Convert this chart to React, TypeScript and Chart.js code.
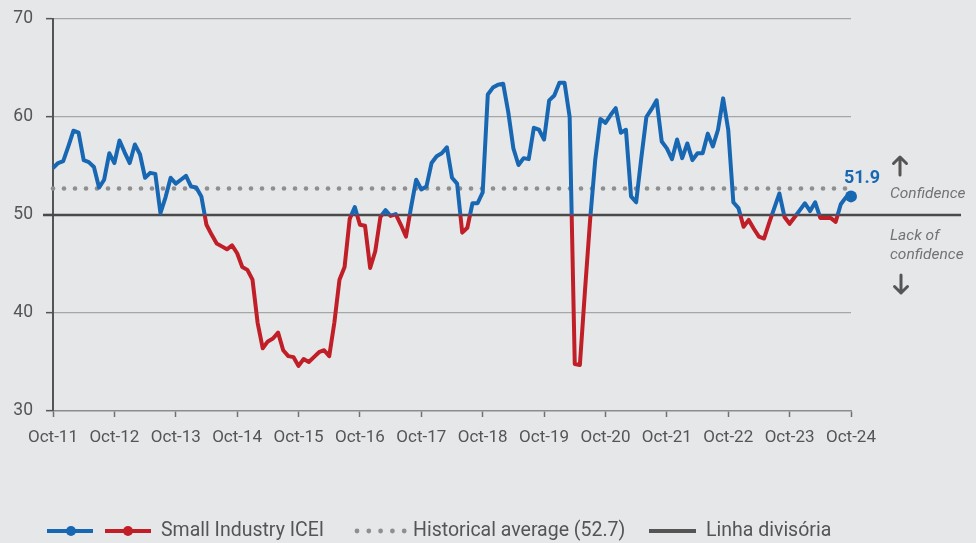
import React, { useEffect, useRef } from 'react';
import { Chart, registerables } from 'chart.js';

Chart.register(...registerables);

// ---- data ----
const MONTHS = ['Oct', 'Nov', 'Dec', 'Jan', 'Feb', 'Mar', 'Apr', 'May', 'Jun', 'Jul', 'Aug', 'Sep'];
const START_YEAR = 11;
const ICEI = [
  54.8, 55.3, 55.5, 57.0, 58.6, 58.4, 55.6, 55.4, 54.9, 52.8, 53.6, 56.3,
  55.3, 57.6, 56.4, 55.3, 57.2, 56.2, 53.8, 54.3, 54.2, 50.2, 51.8, 53.8,
  53.2, 53.6, 54.0, 52.9, 52.8, 51.9, 49.0, 48.0, 47.1, 46.8, 46.5, 46.9,
  46.1, 44.7, 44.4, 43.4, 39.0, 36.4, 37.1, 37.4, 38.0, 36.2, 35.6, 35.5,
  34.6, 35.3, 35.0, 35.5, 36.0, 36.2, 35.6, 39.0, 43.4, 44.7, 49.6, 50.8,
  49.0, 48.9, 44.6, 46.3, 49.8, 50.5, 49.9, 50.1, 49.0, 47.8, 50.8, 53.6,
  52.6, 52.9, 55.3, 56.0, 56.3, 56.9, 53.8, 53.2, 48.2, 48.7, 51.2, 51.2,
  52.3, 62.3, 63.0, 63.3, 63.4, 60.5, 56.8, 55.1, 55.8, 55.7, 58.9, 58.7,
  57.7, 61.7, 62.2, 63.5, 63.5, 60.0, 34.8, 34.7, 42.3, 49.5, 55.6, 59.8,
  59.4, 60.2, 60.9, 58.4, 58.7, 51.9, 51.3, 55.8, 60.0, 60.8, 61.7, 57.5,
  56.8, 55.7, 57.7, 55.8, 57.3, 55.6, 56.3, 56.3, 58.3, 57.0, 58.7, 61.9,
  58.7, 51.3, 50.7, 48.8, 49.5, 48.6, 47.8, 47.6, 49.2, 50.7, 52.2, 49.8,
  49.1, 49.8, 50.5, 51.2, 50.4, 51.3, 49.7, 49.7, 49.7, 49.3, 51.1, 51.8,
  51.9,
];
const HIST_AVG = 52.7;
const DIVIDER = 50;
const Y_MIN = 30;
const Y_MAX = 70;
const Y_STEP = 10;
const LAST_LABEL = '51.9';
const LEGEND_ICEI = 'Small Industry ICEI';
const LEGEND_AVG = 'Historical average (52.7)';
const LEGEND_DIV = 'Linha divisória';
const NOTE_UP = 'Confidence';
const NOTE_DOWN = ['Lack of', 'confidence'];

const LABELS = ICEI.map((_, i) => {
  const yr = START_YEAR + Math.floor((i + 9) / 12);
  return `${MONTHS[i % 12]}-${yr}`;
});

// ---- styles ----
const BLUE = '#1767b3';
const RED = '#c01f28';
const BG = '#e6e7e9';
const TXT = '#555555';
const FONT = 'Roboto, "Noto Sans", sans-serif';

const overlay = {
  id: 'overlay',
  beforeDatasetsDraw(chart: any) {
    const { ctx, chartArea: a, scales } = chart;
    const y = scales.y;
    ctx.save();
    const ya = y.getPixelForValue(HIST_AVG);
    ctx.fillStyle = '#8f8f8f';
    for (let x = a.left; x <= a.right + 0.5; x += 11) {
      ctx.beginPath();
      ctx.arc(x, ya, 2.3, 0, Math.PI * 2);
      ctx.fill();
    }
    const yd = y.getPixelForValue(DIVIDER);
    ctx.strokeStyle = '#4a4a4a';
    ctx.lineWidth = 2.5;
    ctx.beginPath();
    ctx.moveTo(a.left - 10, yd);
    ctx.lineTo(961, yd);
    ctx.stroke();
    ctx.restore();
  },
  afterDraw(chart: any) {
    const { ctx } = chart;
    const meta = chart.getDatasetMeta(0);
    const last = meta.data[meta.data.length - 1];
    ctx.save();
    ctx.fillStyle = BLUE;
    ctx.font = `bold 18px ${FONT}`;
    ctx.textAlign = 'center';
    ctx.textBaseline = 'middle';
    ctx.fillText(LAST_LABEL, last.x + 11, last.y - 18);

    ctx.strokeStyle = '#555';
    ctx.lineWidth = 3;
    ctx.lineCap = 'round';
    ctx.lineJoin = 'round';
    ctx.beginPath();
    ctx.moveTo(900, 175); ctx.lineTo(900, 157);
    ctx.moveTo(893.5, 163.5); ctx.lineTo(900, 157); ctx.lineTo(906.5, 163.5);
    ctx.moveTo(901, 275); ctx.lineTo(901, 293);
    ctx.moveTo(894.5, 286.5); ctx.lineTo(901, 293); ctx.lineTo(907.5, 286.5);
    ctx.stroke();

    ctx.fillStyle = '#737373';
    ctx.font = `italic 15.5px ${FONT}`;
    ctx.textAlign = 'left';
    ctx.fillText(NOTE_UP, 890, 194);
    ctx.fillText(NOTE_DOWN[0], 890, 236);
    ctx.fillText(NOTE_DOWN[1], 890, 255);

    const ly = 531;
    ctx.lineCap = 'butt';
    ctx.lineWidth = 4;
    ctx.strokeStyle = BLUE;
    ctx.beginPath(); ctx.moveTo(47, ly); ctx.lineTo(93, ly); ctx.stroke();
    ctx.fillStyle = BLUE;
    ctx.beginPath(); ctx.arc(71, ly, 5, 0, Math.PI * 2); ctx.fill();
    ctx.strokeStyle = RED;
    ctx.beginPath(); ctx.moveTo(105, ly); ctx.lineTo(151, ly); ctx.stroke();
    ctx.fillStyle = RED;
    ctx.beginPath(); ctx.arc(128, ly, 5, 0, Math.PI * 2); ctx.fill();

    ctx.fillStyle = '#8f8f8f';
    for (let i = 0; i < 5; i++) {
      ctx.beginPath(); ctx.arc(357 + i * 11.8, ly, 2.4, 0, Math.PI * 2); ctx.fill();
    }
    ctx.strokeStyle = '#555';
    ctx.lineWidth = 4;
    ctx.beginPath(); ctx.moveTo(649, ly); ctx.lineTo(696, ly); ctx.stroke();

    ctx.fillStyle = TXT;
    ctx.font = `19.5px ${FONT}`;
    ctx.textBaseline = 'middle';
    ctx.fillText(LEGEND_ICEI, 161, ly);
    ctx.fillText(LEGEND_AVG, 413, ly);
    ctx.fillText(LEGEND_DIV, 706, ly);
    ctx.restore();
  },
};

export default function App() {
  const ref = useRef<HTMLCanvasElement>(null);
  useEffect(() => {
    if (!ref.current) return;
    const chart = new Chart(ref.current, {
      type: 'line',
      data: {
        labels: LABELS,
        datasets: [
          {
            label: LEGEND_ICEI,
            data: ICEI,
            borderWidth: 4,
            tension: 0,
            borderJoinStyle: 'round',
            borderColor: (c: any) => {
              const ch = c.chart;
              const a = ch.chartArea;
              if (!a) return BLUE;
              const yd = ch.scales.y.getPixelForValue(DIVIDER);
              const g = ch.ctx.createLinearGradient(0, a.top, 0, a.bottom);
              const s = Math.min(1, Math.max(0, (yd - a.top) / (a.bottom - a.top)));
              g.addColorStop(0, BLUE);
              g.addColorStop(s, BLUE);
              g.addColorStop(s, RED);
              g.addColorStop(1, RED);
              return g;
            },
            pointRadius: (c: any) => (c.dataIndex === ICEI.length - 1 ? 6 : 0),
            pointBackgroundColor: BLUE,
            pointBorderColor: BLUE,
            pointBorderWidth: 0,
          },
        ],
      },
      options: {
        responsive: false,
        animation: false,
        layout: { padding: { top: 19, right: 125, left: 0, bottom: 0 } },
        plugins: { legend: { display: false }, tooltip: { enabled: false } },
        scales: {
          x: {
            type: 'category',
            afterFit: (s: any) => { s.height = 132; s.paddingLeft = 0; s.paddingRight = 0; },
            grid: {
              drawOnChartArea: false,
              drawTicks: true,
              tickLength: 6,
              tickColor: '#707070',
              tickWidth: 1.5,
            },
            border: { color: '#8c8c8c', width: 1.5 },
            ticks: {
              autoSkip: false,
              maxRotation: 0,
              padding: 11,
              color: TXT,
              font: { family: FONT, size: 17 },
              callback: (v: any, i: number) => (i % 12 === 0 ? LABELS[i] : null),
            },
          },
          y: {
            min: Y_MIN,
            max: Y_MAX,
            afterFit: (s: any) => { s.width = 53; s.paddingTop = 0; s.paddingBottom = 0; },
            grid: {
              color: (c: any) => (c.tick && (c.tick.value === DIVIDER || c.tick.value === Y_MIN) ? 'rgba(0,0,0,0)' : '#a6a6a6'),
              lineWidth: 1.3,
              tickLength: 7,
              tickColor: '#555',
              tickWidth: 1.5,
            },
            border: { color: '#555', width: 2 },
            ticks: {
              stepSize: Y_STEP,
              padding: 13,
              color: TXT,
              font: { family: FONT, size: 17.5 },
            },
          },
        },
      } as any,
      plugins: [overlay],
    });
    return () => chart.destroy();
  }, []);

  return (
    <div style={{ position: 'fixed', left: 0, top: 0, width: 976, height: 543, background: BG }}>
      <canvas ref={ref} width={976} height={543} style={{ display: 'block' }} />
    </div>
  );
}
